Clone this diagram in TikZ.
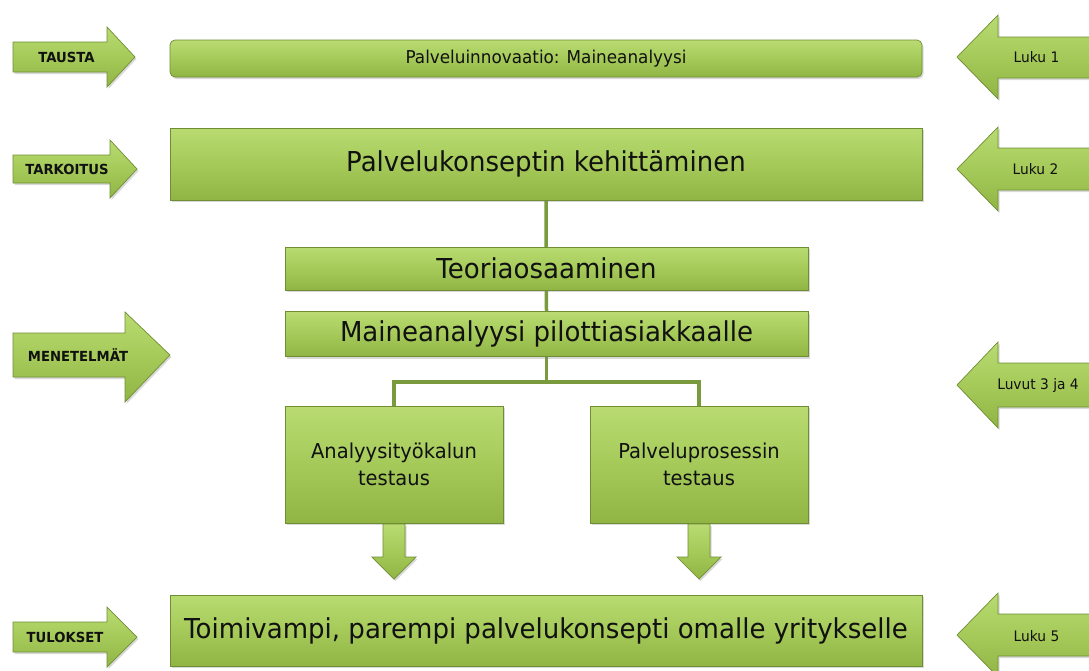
\documentclass[tikz,border=0pt]{standalone}
\usepackage{fontspec}
\setmainfont[FakeStretch=0.95]{DejaVu Sans}
\usetikzlibrary{shadows,backgrounds,calc}
\definecolor{gtop}{HTML}{B9DB72}
\definecolor{gmid}{HTML}{A5CA59}
\definecolor{gbot}{HTML}{90B545}
\definecolor{gedge}{HTML}{6F8E33}
\definecolor{conncol}{HTML}{7A9A3E}
\definecolor{txt}{HTML}{111111}
\begin{document}
\begin{tikzpicture}[x=1pt,y=-1pt,
  gfill/.style={draw=gedge, line width=0.7pt, top color=gtop, bottom color=gbot, middle color=gmid,
    drop shadow={opacity=0.3, shadow xshift=1.5pt, shadow yshift=-2pt}},
  box/.style={gfill, inner sep=0pt, align=center, text=txt},
  conn/.style={draw=conncol, line width=3.5pt},
  lab/.style={font=\bfseries\fontsize{13.9}{15}\selectfont, text=txt},
  rlab/.style={font=\fontsize{14.5}{15}\selectfont, text=txt}]
\useasboundingbox (0,0) rectangle (1089,670);
\clip (0,0) rectangle (1089,670);

% main boxes
\node[box, rounded corners=5pt, minimum width=752, minimum height=37, font=\fontsize{17.7}{19}\selectfont] (bg) at (546,58.5) {Palveluinnovaatio: Maineanalyysi};
\node[box, minimum width=752, minimum height=72, font=\fontsize{27.4}{30}\selectfont] (purpose) at (546,164) {Palvelukonseptin kehittäminen};
\node[box, minimum width=523, minimum height=43, font=\fontsize{27.4}{30}\selectfont] (theory) at (546.5,268.5) {Teoriaosaaminen};
\node[box, minimum width=523, minimum height=45, font=\fontsize{27.4}{30}\selectfont] (pilot) at (546.5,334) {Maineanalyysi pilottiasiakkaalle};
\node[box, minimum width=218, minimum height=117, font=\fontsize{20.5}{27}\selectfont] (tool) at (394,464.5) {Analyysityökalun\\testaus};
\node[box, minimum width=218, minimum height=117, font=\fontsize{20.5}{27}\selectfont] (process) at (699,464.5) {Palveluprosessin\\testaus};
\node[box, minimum width=752, minimum height=71, font=\fontsize{27.4}{32}\selectfont] (result) at (546,630.5) {Toimivampi, parempi palvelukonsepti omalle yritykselle};

% connectors
\coordinate (split) at (546.5,382);
\begin{scope}[on background layer]
\draw[conn] (purpose.south) -- (pilot.north);
\draw[conn] (pilot.south) -- (split);
\draw[conn] (tool.north) |- (split) -| (process.north);
\end{scope}

% down block arrows
\path[gfill] (383,524) -- (405,524) -- (405,557) -- (416,557) -- (394,579) -- (372,557) -- (383,557) -- cycle;
\path[gfill] (688,524) -- (710,524) -- (710,557) -- (721,557) -- (699,579) -- (677,557) -- (688,557) -- cycle;

% left arrows
\path[gfill] (13,42) -- (107,42) -- (107,27) -- (135,57) -- (107,87) -- (107,72) -- (13,72) -- cycle;
\node[lab] (tausta) at (66.5,57) {TAUSTA};
\path[gfill] (13,155) -- (110,155) -- (110,140) -- (137,169) -- (110,198) -- (110,183) -- (13,183) -- cycle;
\node[lab] (tarkoitus) at (67,169) {TARKOITUS};
\path[gfill] (13,333) -- (125,333) -- (125,312) -- (170,355) -- (125,402) -- (125,377) -- (13,377) -- cycle;
\node[lab] (menetelmat) at (78,355) {MENETELMÄT};
\path[gfill] (13,622) -- (107,622) -- (107,607) -- (137,637) -- (107,667) -- (107,652) -- (13,652) -- cycle;
\node[lab] (tulokset) at (65,637) {TULOKSET};

% right arrows
\path[gfill] (1100,37) -- (998,37) -- (998,15) -- (957,57) -- (998,99) -- (998,78) -- (1100,78) -- cycle;
\node[rlab] (luku1) at (1036.5,57) {Luku 1};
\path[gfill] (1100,148) -- (998,148) -- (998,127) -- (957,169) -- (998,211) -- (998,190) -- (1100,190) -- cycle;
\node[rlab] (luku2) at (1035.5,169) {Luku 2};
\path[gfill] (1100,363) -- (998,363) -- (998,342) -- (957,385) -- (998,428) -- (998,407) -- (1100,407) -- cycle;
\node[rlab] (luku34) at (1038,385) {Luvut 3 ja 4};
\path[gfill] (1100,614) -- (998,614) -- (998,593) -- (957,635) -- (998,677) -- (998,656) -- (1100,656) -- cycle;
\node[rlab] (luku5) at (1036.5,636) {Luku 5};
\end{tikzpicture}
\end{document}
